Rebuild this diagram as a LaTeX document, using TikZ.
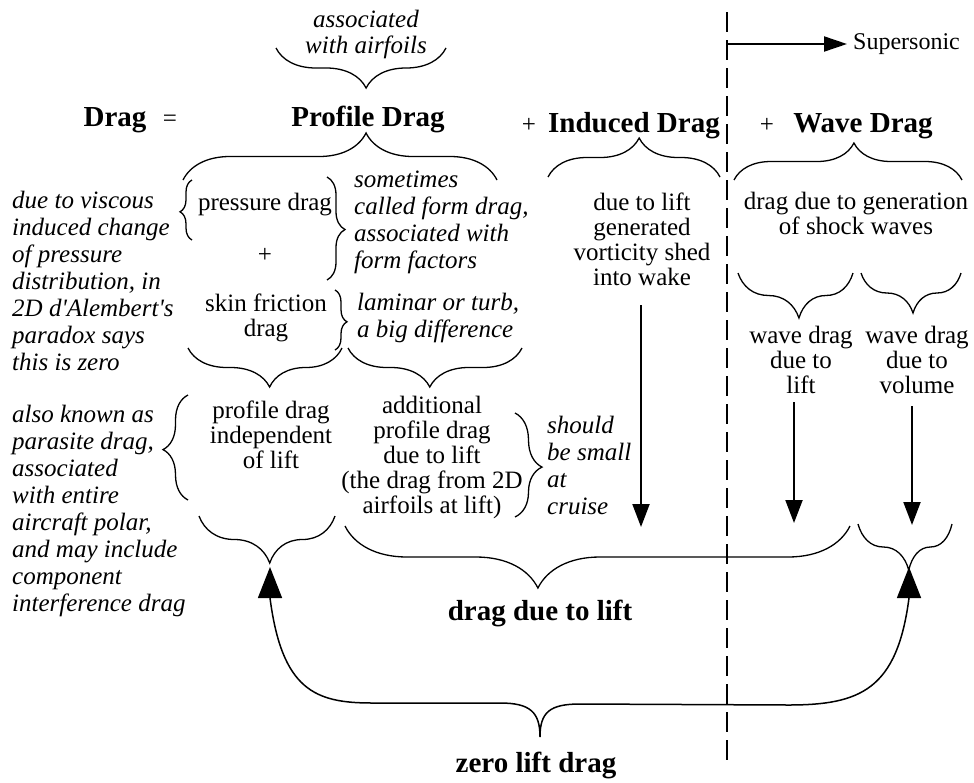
\documentclass[tikz,border=0pt]{standalone}
\usepackage{fontspec}
\setmainfont{Liberation Serif}[Ligatures=TeXOff]
\usetikzlibrary{arrows.meta,decorations.pathreplacing}
\tikzset{bigtip/.tip={Triangle[length=31pt,width=24pt]}}

\begin{document}
\begin{tikzpicture}[x=1pt,y=-1pt,
  txt/.style={inner sep=0pt, font=\fontsize{25}{25}\selectfont, align=center},
  note/.style={inner sep=0pt, font=\fontsize{25}{27}\selectfont\itshape, align=left, anchor=west},
  head/.style={inner sep=0pt, font=\fontsize{29}{30}\selectfont\bfseries, anchor=base},
  brc/.style 2 args={decorate, decoration={brace, amplitude=#1, aspect=#2}, line width=1.3pt},
  downarrow/.style={line width=2pt, -{Triangle[length=23pt,width=17pt]}},
]
\fill[white] (0,0) rectangle (974,782);
\useasboundingbox (0,0) rectangle (974,782);

% subsonic / supersonic divide
\coordinate (divtop) at (727,12);
\coordinate (divbot) at (727,765);
\draw[line width=2.5pt, dash pattern=on 20pt off 8pt] (divtop) -- (divbot);
\coordinate (sup0) at (727,44);
\node[txt, anchor=west, font=\fontsize{24}{24}\selectfont] (super) at (853,44) {Supersonic};
\draw[line width=2pt, -{Triangle[length=23pt,width=15pt]}, shorten >=6pt] (sup0) -- (super.west);

% top row
\node[txt, font=\fontsize{25}{26}\selectfont\itshape] (assoc) at (366,34) {associated\\with airfoils};
\draw[brc={40pt}{0.47}] (446,48) -- (276,48);

\node[head] (drag) at (115,126) {Drag};
\node[txt, anchor=base] (eq) at (170,126) {=};
\node[head] (profile) at (368,126) {Profile Drag};
\node[txt, anchor=base] (plus1) at (529,132) {+};
\node[head] (induced) at (634,132) {Induced Drag};
\node[txt, anchor=base] (plus2) at (767,132) {+};
\node[head] (wave) at (863,132) {Wave Drag};

% braces under the three drag terms
\draw[brc={47pt}{0.583}] (183,180) -- (497,180);
\draw[brc={39pt}{0.53}] (548,177) -- (720,177);
\draw[brc={37pt}{0.526}] (734,180) -- (962,180);

% profile drag breakdown
\node[note] (viscous) at (12,281) {due to viscous\\induced change\\of pressure\\distribution, in\\2D d'Alembert's\\paradox says\\this is zero};
\node[txt] (pressure) at (265,205) {pressure drag};
\draw[brc={12pt}{0.47}] (192,240) -- (192,180);
\node[txt] (plus3) at (265,255) {+};
\draw[brc={18pt}{0.51}] (327,177) -- (327,280);
\node[note] (sometimes) at (354,222) {sometimes\\called form drag,\\associated with\\form factors};

\node[txt] (skin) at (266,318) {skin friction\\drag};
\draw[brc={12pt}{0.53}] (335,290) -- (335,350);
\node[note] (laminar) at (357,318) {laminar or turb,\\a big difference};

\draw[brc={39pt}{0.47}] (342,348) -- (188,348);
\draw[brc={39pt}{0.53}] (522,348) -- (348,348);

\node[txt] (indep) at (271,435) {profile drag\\independent\\of lift};
\draw[brc={25pt}{0.48}] (188,500) -- (188,395);
\node[note] (parasite) at (12,511) {also known as\\parasite drag,\\associated\\with entire\\aircraft polar,\\and may include\\component\\interference drag};

\node[txt] (additional) at (432,457) {additional\\profile drag\\due to lift\\(the drag from 2D\\airfoils at lift)};
\draw[brc={27pt}{0.52}] (515,413) -- (515,517);
\node[note] (small) at (547,465) {should\\be small\\at\\cruise};

% induced drag
\node[txt] (vortex) at (642,239) {due to lift\\generated\\vorticity shed\\into wake};
\coordinate (ind0) at (641,305);
\coordinate (ind1) at (641,527);
\draw[downarrow] (ind0) -- (ind1);

% wave drag
\node[txt] (shock) at (856,213) {drag due to generation\\of shock waves};
\draw[brc={45pt}{0.47}] (853,273) -- (738,273);
\draw[brc={40pt}{0.48}] (961,273) -- (861,273);
\node[txt] (wlift) at (801,360) {wave drag\\due to\\lift};
\node[txt] (wvol) at (917,360) {wave drag\\due to\\volume};
\coordinate (wl0) at (794,402);
\coordinate (wl1) at (794,523);
\draw[downarrow] (wl0) -- (wl1);
\coordinate (wv0) at (912,406);
\coordinate (wv1) at (912,525);
\draw[downarrow] (wv0) -- (wv1);

% groupings at the bottom
\draw[brc={47pt}{0.48}] (335,516) -- (199,516);
\draw[brc={62pt}{0.618}] (850,526) -- (345,526);
\draw[brc={46pt}{0.46}] (952,524) -- (858,524);
\node[head, anchor=center] (duelift) at (540,613) {drag due to lift};

\coordinate (zl0) at (270,567);
\coordinate (zl1) at (909,567);
\draw[line width=1.5pt, {bigtip}-{bigtip}] (zl0) -- (270,598)
  .. controls (282,690) and (315,703) .. (372,703) -- (500,703)
  .. controls (530,703) and (540,712) .. (540,737)
  .. controls (540,712) and (550,704) .. (580,704) -- (788,705)
  .. controls (860,705) and (897,690) .. (909,598) -- (zl1);
\node[head, anchor=center] (zerolift) at (536,765) {zero lift drag};
\end{tikzpicture}
\end{document}
